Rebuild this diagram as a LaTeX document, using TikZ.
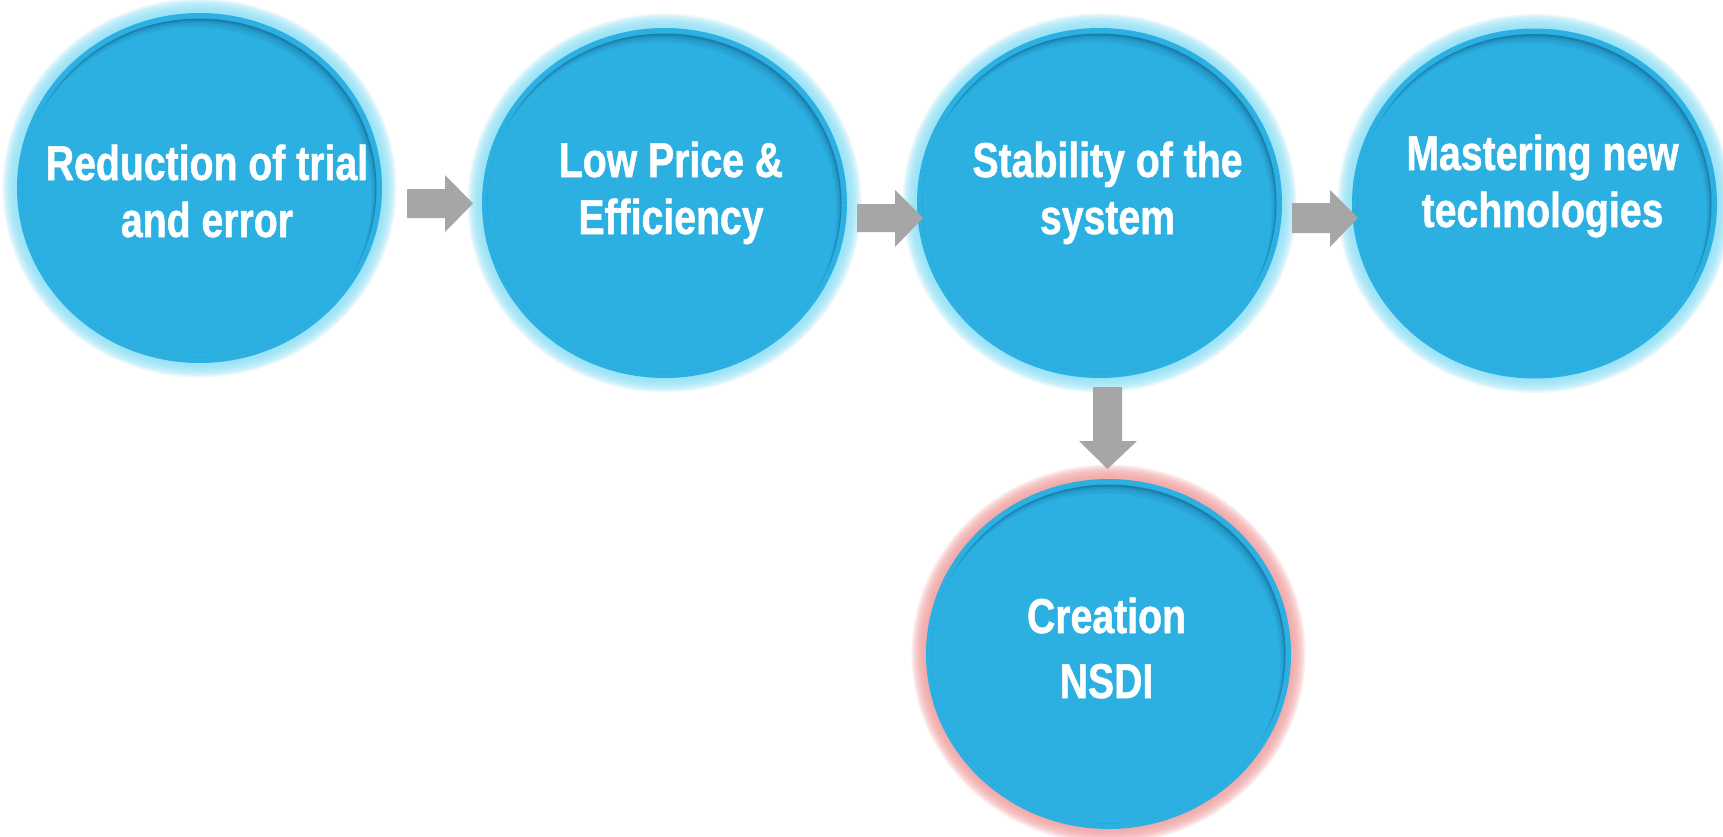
\documentclass[tikz,border=0pt]{standalone}
\usepackage{fontspec}
\newfontfamily\narrowsans{Liberation Sans}[FakeStretch=0.8, BoldFeatures={FakeBold=1}]
\usetikzlibrary{shapes.geometric}
\definecolor{bfill}{HTML}{2CB0E1}
\definecolor{bshadow}{HTML}{1B80AE}
\definecolor{cyanglow}{HTML}{8EE0F7}
\definecolor{pinkglow}{HTML}{F2A0A0}
\definecolor{arrowgray}{HTML}{A6A6A6}
\tikzset{
  bubbletext/.style={text=white, align=center, anchor=base, inner sep=0pt,
    font=\narrowsans\bfseries\fontsize{49}{57}\selectfont},
  blockarrow/.style={fill=arrowgray, draw=none},
}
\newcommand\bubble[4]{%
  \begin{scope}[shift={(#2,#3)}]
    \foreach \k in {9,...,1}{%
      \fill[#4,opacity=0.2] (0,0) ellipse [x radius={182.5+1.6*\k}, y radius={175+1.6*\k}];}
    \node[ellipse, fill=bfill, minimum width=365pt, minimum height=350pt, inner sep=0pt] (#1) at (0,0) {};
    \begin{scope}
      \clip (0,0) ellipse [x radius=177, y radius=169.5];
      \fill[bshadow] (-200,-200) rectangle (200,200);
      \fill[bfill] (-5,9) ellipse [x radius=177, y radius=169.5];
      \foreach \s in {0.75,0.5,0.25}{%
        \fill[bfill,opacity=0.45] ({-5*\s},{9*\s}) ellipse [x radius=177, y radius=169.5];}
    \end{scope}
  \end{scope}}
\begin{document}
\begin{tikzpicture}[x=1pt,y=-1pt]
\useasboundingbox[fill=white] (0,0) rectangle (1723,836);
\bubble{c1}{199.5}{188}{cyanglow}
\bubble{c2}{664.5}{203}{cyanglow}
\bubble{c3}{1099.5}{203}{cyanglow}
\bubble{c4}{1534.5}{203.5}{cyanglow}
\bubble{c5}{1108.5}{654}{pinkglow}
\node[bubbletext] (t1) at (207,237) {Reduction of trial\\and error};
\node[bubbletext] (t2) at (671,234) {Low Price \&\\Efficiency};
\node[bubbletext] (t3) at (1107.5,234) {Stability of the\\system};
\node[bubbletext] (t4) at (1542.5,227) {Mastering new\\technologies};
\node[bubbletext, font=\narrowsans\bfseries\fontsize{49}{65}\selectfont] (t5) at (1106.5,698) {Creation\\NSDI};
% block arrows
\fill[blockarrow] (407,189) -- (445,189) -- (445,175) -- (473,203.5) -- (445,232) -- (445,218) -- (407,218) -- cycle;
\fill[blockarrow] (857,204) -- (895,204) -- (895,190) -- (923,218) -- (895,247) -- (895,232) -- (857,232) -- cycle;
\fill[blockarrow] (1292,203) -- (1330,203) -- (1330,190) -- (1358,218) -- (1330,247) -- (1330,233) -- (1292,233) -- cycle;
\fill[blockarrow] (1093,387) -- (1122,387) -- (1122,441) -- (1137,441) -- (1107.5,469) -- (1079,441) -- (1093,441) -- cycle;
\end{tikzpicture}
\end{document}
